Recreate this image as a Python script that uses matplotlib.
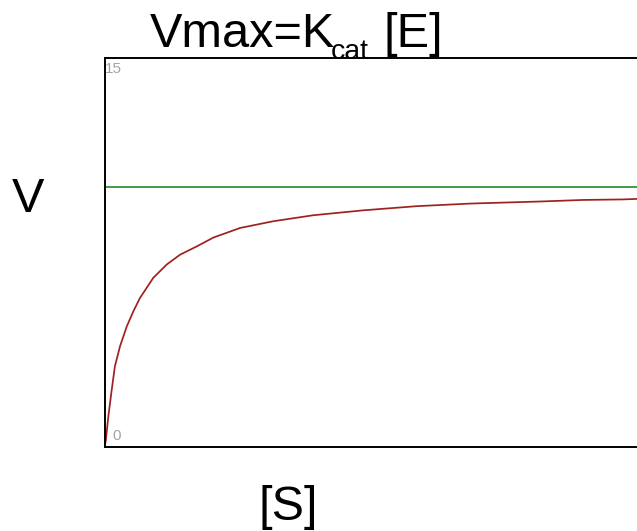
import numpy as np
import matplotlib
matplotlib.use("Agg")
import matplotlib.pyplot as plt

plt.rcParams['font.family'] = ['Liberation Sans', 'DejaVu Sans']

# substrate concentration (arbitrary units) and velocity
s_vals = [0.0, 0.05, 0.15, 0.29, 0.42, 0.63, 0.91, 1.18, 1.45, 2.00, 2.55,
          3.10, 3.79, 4.47, 5.57, 6.94, 8.58, 10.64, 12.84, 15.03, 17.91,
          19.68, 21.32, 22.2]
v_vals = [0.0, 0.27, 1.17, 2.20, 3.10, 3.87, 4.64, 5.22, 5.73, 6.51, 7.02,
          7.40, 7.72, 8.06, 8.43, 8.69, 8.92, 9.11, 9.27, 9.37, 9.45,
          9.51, 9.53, 9.56]
vmax = 10
y_ticks = [0, 15]

W, H = 637, 531
fig = plt.figure(figsize=(W / 100, H / 100), dpi=100)

left_px, right_px, top_px, bot_px = 104.7, 645, 57.5, 446.7
ax = fig.add_axes([left_px / W, 1 - bot_px / H,
                   (right_px - left_px) / W, (bot_px - top_px) / H])
ax.set_xlim(0, 22.23)
ax.set_ylim(y_ticks[0], y_ticks[1])

ax.axhline(vmax, color='#2e8b2e', lw=1.25)
ax.plot(s_vals, v_vals, color='#a02020', lw=1.25)

for side in ['left', 'top', 'bottom']:
    ax.spines[side].set_linewidth(1.4)
    ax.spines[side].set_color('black')
ax.spines['right'].set_visible(False)
ax.set_xticks([])
ax.set_yticks([])

# small grey axis values drawn inside the frame
ax.annotate(str(y_ticks[1]), xy=(0, y_ticks[1]), xytext=(0.3, -3.5),
            textcoords='offset points', ha='left', va='top',
            fontsize=11, color='#a0a4aa')
ax.annotate(str(y_ticks[0]), xy=(0, y_ticks[0]), xytext=(5.5, 2.5),
            textcoords='offset points', ha='left', va='bottom',
            fontsize=11, color='#a0a4aa')

# title with subscript
fig.text(150 / W, 1 - 47 / H, 'Vmax=K', fontsize=35, ha='left', va='baseline')
fig.text(331 / W, 1 - 59 / H, 'cat', fontsize=20.5, ha='left', va='baseline')
fig.text(383 / W, 1 - 47 / H, '[E]', fontsize=35, ha='left', va='baseline')

fig.text(28 / W, 1 - 212 / H, 'V', fontsize=35, ha='center', va='baseline')
fig.text(288 / W, 1 - 520 / H, '[S]', fontsize=35, ha='center', va='baseline')

fig.savefig('out.png', dpi=100)
